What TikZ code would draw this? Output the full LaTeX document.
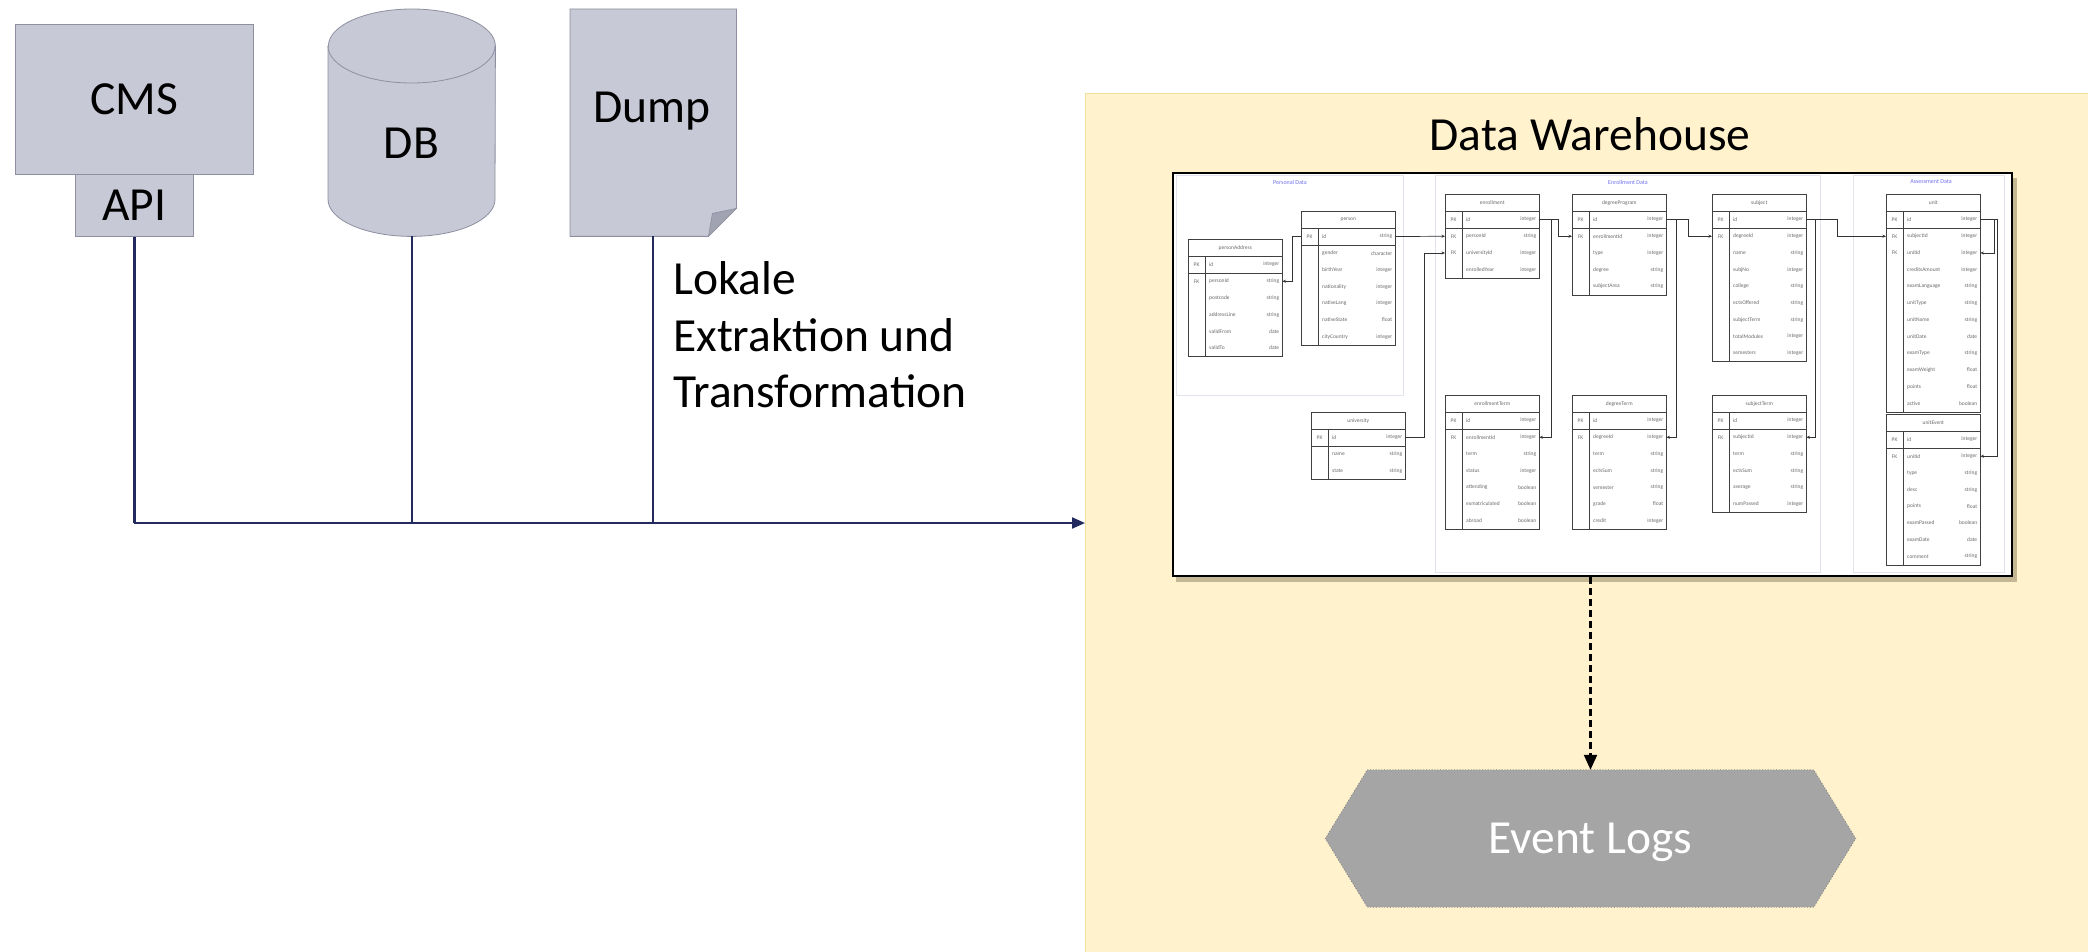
\documentclass[tikz,border=0pt]{standalone}
\usepackage{fontspec}
\setmainfont{Carlito}
\usetikzlibrary{arrows.meta,calc}
\definecolor{srcfill}{HTML}{C8C9D6}
\definecolor{srcline}{HTML}{8E8FA0}
\definecolor{srcfold}{HTML}{A2A3B2}
\definecolor{navy}{HTML}{232B5E}
\definecolor{dwfill}{HTML}{FFF2CC}
\definecolor{dwline}{HTML}{F3E0A0}
\definecolor{hexfill}{HTML}{A5A5A5}
\definecolor{hexline}{HTML}{7A7A7A}
\definecolor{shadowc}{HTML}{C4B793}
\definecolor{secline}{HTML}{E2E4EC}
\definecolor{secblue}{HTML}{7070F0}
\definecolor{tabtext}{HTML}{6A6A6A}
\tikzset{
  src/.style={draw=srcline, fill=srcfill, line width=0.8pt},
  lbl/.style={font=\fontsize{47.5}{56.5}\selectfont, inner sep=0},
  bus/.style={draw=navy, line width=2.2pt},
  tabhead/.style={draw=black!75, line width=0.6pt, minimum width=94pt, minimum height=17pt, inner sep=0, font=\fontsize{5.5}{6}\selectfont, text=tabtext},
  tabrow/.style={minimum width=94pt, minimum height=16.7pt, inner sep=0},
  tabtxt/.style={inner sep=0, font=\fontsize{5.5}{6}\selectfont, text=tabtext},
  tabline/.style={draw=black!75, line width=0.6pt},
  seclbl/.style={inner sep=0, font=\fontsize{6}{7}\selectfont, text=secblue},
  erl/.style={draw=black!80, line width=0.7pt},
  erto/.style={erl, -{Stealth[length=3.5pt,width=3pt]}},
  erfrom/.style={erl, {Stealth[length=3.5pt,width=3pt]}-},
}
\newcommand\ertab[5]{%
  \node[tabhead, anchor=north west] (#1) at (#2,#3) {#4};
  \foreach \kk/\ff/\ty [count=\i] in {#5} {
    \node[tabrow, anchor=north west] (#1-\i) at (#2,{#3+17+(\i-1)*16.7}) {};
    \node[tabtxt] (#1-\i-k) at ([xshift=8.5pt]#1-\i.west) {\kk};
    \node[tabtxt, anchor=west] (#1-\i-f) at ([xshift=21pt]#1-\i.west) {\ff};
    \node[tabtxt, anchor=east] (#1-\i-t) at ([xshift=-3pt]#1-\i.east) {\ty};
    \xdef\ertablast{\i}
  }
  \draw[tabline] (#1.north west) rectangle (#1-\ertablast.south east);
  \draw[tabline] ([xshift=17pt]#1-1.north west) -- ([xshift=17pt]#1-\ertablast.south west);
  \draw[tabline] (#1-1.south west) -- (#1-1.south east);
}
\begin{document}
\begin{tikzpicture}[x=1pt,y=-1pt]
\useasboundingbox (0,0) rectangle (2088,952);
\fill[white] (0,0) rectangle (2088,952);

% ---------- sources ----------
\node[src, lbl, minimum width=238pt, minimum height=150pt, anchor=north west] (cms) at (15,24) {CMS};
\node[src, lbl, minimum width=118pt, minimum height=62pt, anchor=north west] (api) at (75,174) {API};

\node[minimum width=167pt, minimum height=227pt, inner sep=0, anchor=north west] (db) at (328,9) {};
\path[src] (db.north west) ++(0,37) -- ($(db.south west)+(0,-37)$)
  arc[start angle=180, end angle=360, x radius=83.5pt, y radius=37pt]
  -- ($(db.north east)+(0,37)$)
  arc[start angle=0, end angle=180, x radius=83.5pt, y radius=37pt] -- cycle;
\draw[draw=srcline, line width=0.8pt] ($(db.north west)+(0,37)$)
  arc[start angle=180, end angle=360, x radius=83.5pt, y radius=37pt];
\node[lbl] (dblbl) at (411.5,143) {DB};

\node[minimum width=166pt, minimum height=227pt, inner sep=0, anchor=north west] (dump) at (570,9) {};
\path[src] (dump.north west) -- (dump.north east) -- ($(dump.south east)+(0,-28)$)
  -- ($(dump.south east)+(-28,0)$) -- (dump.south west) -- cycle;
\path[fill=srcfold, draw=srcline, line width=0.6pt] ($(dump.south east)+(0,-28)$)
  -- ($(dump.south east)+(-28,0)$) -- ($(dump.south east)+(-24,-23)$) -- cycle;
\node[lbl] (dumplbl) at (652,111) {Dump};

\node[lbl, anchor=west, align=left] (lok) at (673,335) {Lokale\\Extraktion und\\Transformation};

% ---------- data warehouse ----------
\node[fill=dwfill, draw=dwline, line width=0.8pt, minimum width=1010pt, minimum height=865pt, anchor=north west, inner sep=0] (dw) at (1085,93) {};
\node[lbl] (dwlbl) at (1590,134) {Data Warehouse};

\fill[shadowc] (1176,178) rectangle (2017,582);
\node[draw=black, fill=white, line width=2pt, minimum width=839pt, minimum height=403pt, anchor=north west, inner sep=0] (erf) at (1172,172) {};

% sections
\draw[secline, line width=0.6pt] (1176,175) rectangle (1403,395);
\draw[secline, line width=0.6pt] (1435,175) rectangle (1820,572);
\draw[secline, line width=0.6pt] (1853,175) rectangle (2004,572);
\node[seclbl] (sec1) at (1290,182) {Personal Data};
\node[seclbl] (sec2) at (1628,182) {Enrollment Data};
\node[seclbl] (sec3) at (1931,182) {Assessment Data};

% tables
\ertab{pa}{1188}{239}{personAddress}{PK/id/integer, FK/personId/string, /postcode/string, /addressLine/string, /validFrom/date, /validTo/date}
\ertab{pe}{1301}{211}{person}{PK/id/string, /gender/character, /birthYear/integer, /nationality/integer, /nativeLang/integer, /nativeState/float, /cityCountry/integer}
\ertab{un}{1311}{412}{university}{PK/id/integer, /name/string, /state/string}
\ertab{en}{1445}{194}{enrollment}{PK/id/integer, FK/personId/string, FK/universityId/integer, /enrolledYear/integer}
\ertab{et}{1445}{395}{enrollmentTerm}{PK/id/integer, FK/enrollmentId/integer, /term/string, /status/integer, /attending/boolean, /exmatriculated/boolean, /abroad/boolean}
\ertab{dp}{1572}{194}{degreeProgram}{PK/id/integer, FK/enrollmentId/integer, /type/integer, /degree/string, /subjectArea/string}
\ertab{dt}{1572}{395}{degreeTerm}{PK/id/integer, FK/degreeId/integer, /term/string, /ectsSum/string, /semester/string, /grade/float, /credit/integer}
\ertab{su}{1712}{194}{subject}{PK/id/integer, FK/degreeId/integer, /name/string, /subjNo/integer, /college/string, /ectsOffered/string, /subjectTerm/string, /totalModules/integer, /semesters/integer}
\ertab{st}{1712}{395}{subjectTerm}{PK/id/integer, FK/subjectId/integer, /term/string, /ectsSum/string, /average/string, /numPassed/integer}
\ertab{ut}{1886}{194}{unit}{PK/id/integer, FK/subjectId/integer, FK/unitId/integer, /creditsAmount/integer, /examLanguage/string, /unitType/string, /unitName/string, /unitDate/date, /examType/string, /examWeight/float, /points/float, /active/boolean}
\ertab{ue}{1886}{414}{unitEvent}{PK/id/integer, FK/unitId/integer, /type/string, /desc/string, /points/float, /examPassed/boolean, /examDate/date, /comment/string}

% ER relations
\draw[erfrom] (pa-2.east) -- ++(10,0) |- (pe-1.west);
\draw[erto] (pe-1.east) -- (en-2.west);
\draw[erto] (un-1.east) -- ++(19,0) |- (en-3.west);
\draw[erto] (en-1.east) -- ++(19,0) |- (dp-2.west);
\draw[erto] (en-1.east) -- ++(12,0) |- (et-2.east);
\draw[erto] (dp-1.east) -- ++(22,0) |- (su-2.west);
\draw[erto] (dp-1.east) -- ++(10,0) |- (dt-2.east);
\draw[erto] (su-1.east) -- ++(31,0) |- (ut-2.west);
\draw[erto] (su-1.east) -- ++(9,0) |- (st-2.east);
\draw[erto] (ut-1.east) -- ++(14,0) |- (ut-3.east);
\draw[erto] (ut-1.east) -- ++(17,0) |- (ue-2.east);

% ---------- event logs ----------
\node[lbl, text=white, minimum width=446pt, minimum height=137pt] (ev) at (1590.5,838.5) {};
\path[fill=hexfill, draw=hexline, line width=0.8pt, dotted] (ev.north west) -- (ev.north east)
  -- ($(ev.east)+(42,0)$) -- (ev.south east) -- (ev.south west) -- ($(ev.west)+(-42,0)$) -- cycle;
\node[lbl, text=white] (evlbl) at ([yshift=-4pt]ev.center) {Event Logs};

\draw[line width=2.2pt, dash pattern=on 7pt off 4pt, -{Triangle[length=15pt,width=13pt]}] (erf.south -| ev.north) -- (ev.north);

% ---------- connectors ----------
\coordinate (busy) at (0,523);
\coordinate (dbbot) at (db.south);
\coordinate (dumpbot) at ($(dump.south)+(0,0)$);
\draw[bus] (api.south) -- (api.south |- busy);
\draw[bus] (dbbot) -- (dbbot |- busy);
\draw[bus] (dumpbot) -- (dumpbot |- busy);
\draw[bus, -{Triangle[length=13pt,width=11pt]}] (api.south |- busy) -- (busy -| dw.west);
\end{tikzpicture}
\end{document}
